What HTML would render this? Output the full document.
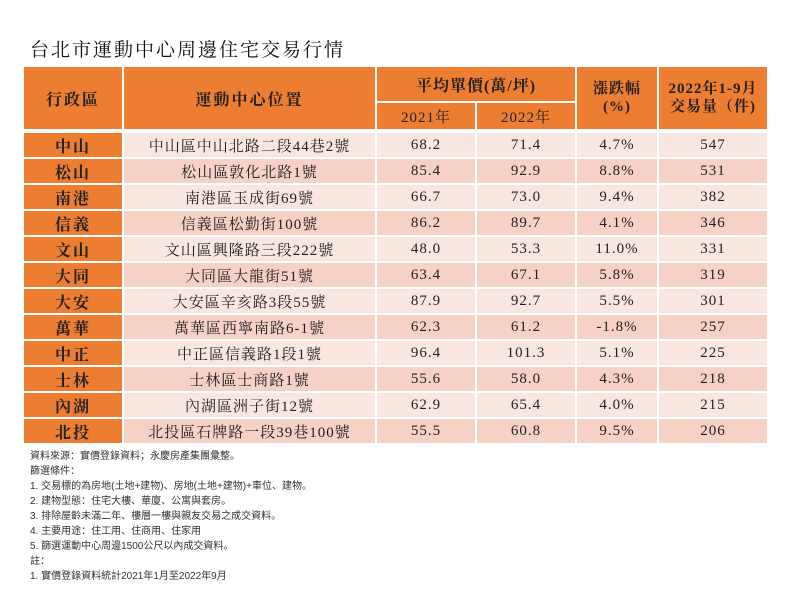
<!DOCTYPE html>
<html><head><meta charset="utf-8"><style>
body{margin:0;width:800px;height:600px;background:#fff;font-family:"Liberation Serif","Noto Serif CJK SC",serif;position:relative;overflow:hidden}
.title{position:absolute;left:30px;top:35px;font-size:19px;letter-spacing:2px;color:#111}
table{position:absolute;left:22px;top:65px;border-collapse:collapse;table-layout:fixed}
td{border:2px solid #fff;text-align:center;padding:0;color:#222;font-size:15px;height:24px;letter-spacing:1px}
.h{background:#ED7D31;font-weight:bold;color:#222}
.d{background:#ED7D31;font-weight:bold;font-size:16px;letter-spacing:2px}
.a td:not(.d){background:#FAE6E0}
.b td:not(.d){background:#F6D1C5}
.sp td{height:0;border:none;padding:0;line-height:2px;font-size:2px;background:#fff}
.notes{position:absolute;left:30px;top:449px;font-size:10px;line-height:15px;color:#333;font-family:"Liberation Sans","Noto Sans CJK SC",sans-serif}
</style></head><body>
<div class="title">台北市運動中心周邊住宅交易行情</div>
<table>
<colgroup><col style="width:100px"><col style="width:253px"><col style="width:100px"><col style="width:100px"><col style="width:82px"><col style="width:110px"></colgroup>
<tr><td class="h" rowspan="2" style="font-size:16px;letter-spacing:2px">行政區</td><td class="h" rowspan="2" style="font-size:16px;letter-spacing:2px">運動中心位置</td><td class="h" colspan="2" style="height:34px;font-size:16px">平均單價(萬/坪)</td><td class="h" rowspan="2" style="font-size:15px;line-height:18px">漲跌幅<br>(%)</td><td class="h" rowspan="2" style="font-size:15px;line-height:18px">2022年1-9月<br>交易量（件)</td></tr>
<tr><td class="h" style="height:26px;font-weight:normal">2021年</td><td class="h" style="font-weight:normal">2022年</td></tr>
<tr class="sp"><td colspan="6"></td></tr>
<tr class="a"><td class="d">中山</td><td>中山區中山北路二段44巷2號</td><td>68.2</td><td>71.4</td><td>4.7%</td><td>547</td></tr>
<tr class="b"><td class="d">松山</td><td>松山區敦化北路1號</td><td>85.4</td><td>92.9</td><td>8.8%</td><td>531</td></tr>
<tr class="a"><td class="d">南港</td><td>南港區玉成街69號</td><td>66.7</td><td>73.0</td><td>9.4%</td><td>382</td></tr>
<tr class="b"><td class="d">信義</td><td>信義區松勤街100號</td><td>86.2</td><td>89.7</td><td>4.1%</td><td>346</td></tr>
<tr class="a"><td class="d">文山</td><td>文山區興隆路三段222號</td><td>48.0</td><td>53.3</td><td>11.0%</td><td>331</td></tr>
<tr class="b"><td class="d">大同</td><td>大同區大龍街51號</td><td>63.4</td><td>67.1</td><td>5.8%</td><td>319</td></tr>
<tr class="a"><td class="d">大安</td><td>大安區辛亥路3段55號</td><td>87.9</td><td>92.7</td><td>5.5%</td><td>301</td></tr>
<tr class="b"><td class="d">萬華</td><td>萬華區西寧南路6-1號</td><td>62.3</td><td>61.2</td><td>-1.8%</td><td>257</td></tr>
<tr class="a"><td class="d">中正</td><td>中正區信義路1段1號</td><td>96.4</td><td>101.3</td><td>5.1%</td><td>225</td></tr>
<tr class="b"><td class="d">士林</td><td>士林區士商路1號</td><td>55.6</td><td>58.0</td><td>4.3%</td><td>218</td></tr>
<tr class="a"><td class="d">內湖</td><td>內湖區洲子街12號</td><td>62.9</td><td>65.4</td><td>4.0%</td><td>215</td></tr>
<tr class="b"><td class="d">北投</td><td>北投區石牌路一段39巷100號</td><td>55.5</td><td>60.8</td><td>9.5%</td><td>206</td></tr>
</table>
<div class="notes">資料來源：實價登錄資料；永慶房產集團彙整。<br>篩選條件：<br>1. 交易標的為房地(土地+建物)、房地(土地+建物)+車位、建物。<br>2. 建物型態：住宅大樓、華廈、公寓與套房。<br>3. 排除屋齡未滿二年、樓層一樓與親友交易之成交資料。<br>4. 主要用途：住工用、住商用、住家用<br>5. 篩選運動中心周邊1500公尺以內成交資料。<br>註：<br>1. 實價登錄資料統計2021年1月至2022年9月</div>
</body></html>
